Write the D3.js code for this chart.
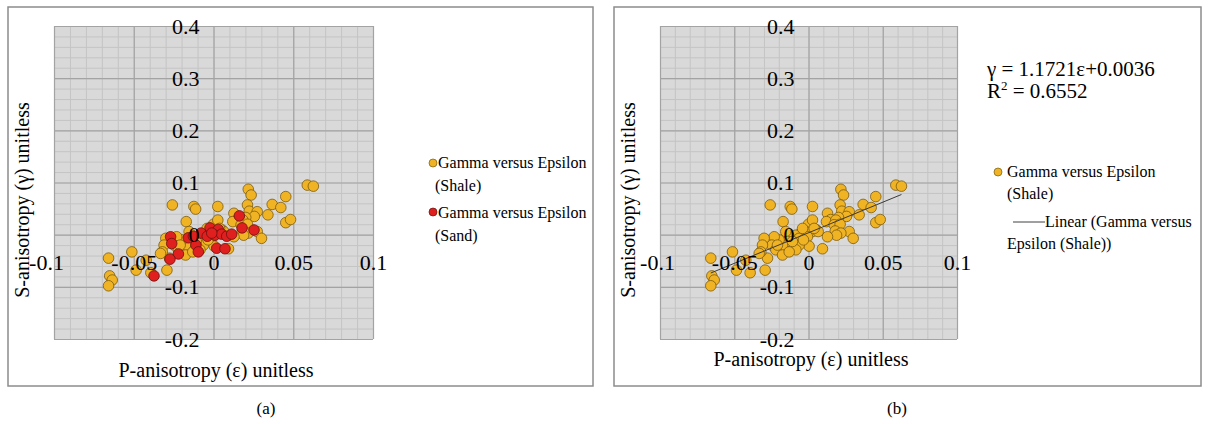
<!DOCTYPE html>
<html><head><meta charset="utf-8">
<script src="https://cdn.jsdelivr.net/npm/d3@7"></script>
<style>
body{margin:0;background:#fff;}
</style></head>
<body><svg id="c" width="1208" height="424"></svg>
<script>
// ---- data ----
const xTicks = [-0.1, -0.05, 0, 0.05, 0.1];
const yTicks = [-0.2, -0.1, 0, 0.1, 0.2, 0.3, 0.4];
const xTickLabels = ["-0.1", "-0.05", "0", "0.05", "0.1"];
const yTickLabels = ["-0.2", "-0.1", "0", "0.1", "0.2", "0.3", "0.4"];
const shaleEps = [0.0588,0.0626,0.0218,0.0236,0.0453,0.0368,0.0422,0.0341,0.0453,0.0483,
  -0.0258,-0.0123,-0.0112,0.0027,-0.0171,
  0.0213,0.0224,0.0274,0.0256,0.0202,0.0128,0.0150,0.0121,0.0184,0.0173,0.0213,0.0180,0.0274,0.0301,0.0218,0.0189,0.0128,0.0094,
  0.0,0.0027,0.0054,0.0027,-0.0018,-0.0052,-0.0085,-0.0007,-0.0063,0.0004,-0.0063,-0.0085,-0.013,-0.0153,-0.0141,-0.0175,-0.0198,-0.0231,-0.0247,-0.022,-0.0175,-0.013,-0.0299,-0.031,-0.0276,-0.0321,0.0065,0.0038,-0.004,-0.0108,-0.0034,-0.0209,
  -0.0512,-0.0658,-0.0485,-0.0393,-0.0292,-0.0422,-0.0651,-0.0635,-0.0658,-0.0332];
const shaleGam = [0.095,0.093,0.087,0.076,0.073,0.058,0.052,0.038,0.023,0.029,
  0.057,0.054,0.049,0.054,0.025,
  0.057,0.045,0.044,0.035,0.033,0.041,0.029,0.025,0.028,0.019,0.020,0.007,0.006,-0.007,0.003,-0.001,-0.004,-0.027,
  0.020,0.028,0.009,0.006,0.006,0.003,-0.001,-0.004,-0.007,-0.022,-0.020,-0.029,-0.004,0.006,-0.013,-0.020,-0.010,-0.004,-0.020,-0.029,-0.039,-0.033,-0.007,-0.020,-0.045,-0.033,0.006,0.012,0.012,-0.013,-0.010,-0.020,
  -0.033,-0.045,-0.068,-0.073,-0.068,-0.049,-0.079,-0.087,-0.098,-0.036];
const sandEps = [0.0162,0.0179,0.0254,-0.0022,0.003,-0.0078,-0.0039,0.0009,0.0051,0.0083,0.0114,-0.0158,-0.011,-0.0095,0.002,0.0072,-0.0269,-0.0262,-0.022,-0.0273,-0.0373,-0.0126,-0.0011];
const sandGam = [0.036,0.013,0.009,0.013,0.010,0.003,-0.003,-0.001,0.001,-0.003,0.001,-0.006,-0.020,-0.033,-0.026,-0.027,-0.004,-0.017,-0.037,-0.047,-0.079,-0.003,0.003];
const trendSlope = 1.1721, trendIntercept = 0.0036;
const seriesNames = ["Gamma versus Epsilon", "(Shale)", "(Sand)"];
const shale = shaleEps.map((e,i)=>({e, g: shaleGam[i]}));
const sand = sandEps.map((e,i)=>({e, g: sandGam[i]}));

const FONT = "'Liberation Serif', 'Times New Roman', 'DejaVu Serif', serif";
const svg = d3.select("#c");
const SHALE = "#f0b324", SHALE_S = "#7a5a10", SAND = "#e0201f", SAND_S = "#6a1010";

function T(sel){ return sel.style("font-family",FONT).style("fill","#000"); }

function panel(o){
  const g = svg.append("g");
  g.append("rect").attr("x",o.bx).attr("y",7).attr("width",o.bw).attr("height",379)
    .attr("fill","#fff").attr("stroke","#8c8c8c").attr("stroke-width",1.5);
  const x = d3.scaleLinear().domain([-0.1,0.1]).range([o.x0,o.x1]);
  const y = d3.scaleLinear().domain([-0.2,0.4]).range([339,26]);
  g.append("rect").attr("x",o.x0).attr("y",26).attr("width",o.x1-o.x0).attr("height",313).attr("fill","#d9d9d9");
  const xm = d3.range(-0.1,0.1001,0.01), ym = d3.range(-0.2,0.4001,0.02);
  g.append("g").call(d3.axisBottom(x).tickValues(xm).tickSize(-313).tickFormat(""))
    .attr("transform",`translate(0,339)`).call(s=>{s.select(".domain").remove();s.selectAll("line").attr("stroke","#c4c4c4").attr("stroke-width",1);});
  g.append("g").call(d3.axisLeft(y).tickValues(ym).tickSize(-(o.x1-o.x0)).tickFormat(""))
    .attr("transform",`translate(${o.x0},0)`).call(s=>{s.select(".domain").remove();s.selectAll("line").attr("stroke","#c4c4c4").attr("stroke-width",1);});
  g.append("g").call(d3.axisBottom(x).tickValues(xTicks).tickSize(-313).tickFormat(""))
    .attr("transform",`translate(0,339)`).call(s=>{s.select(".domain").remove();s.selectAll("line").attr("stroke","#a3a3a3").attr("stroke-width",1.2);});
  g.append("g").call(d3.axisLeft(y).tickValues(yTicks).tickSize(-(o.x1-o.x0)).tickFormat(""))
    .attr("transform",`translate(${o.x0},0)`).call(s=>{s.select(".domain").remove();s.selectAll("line").attr("stroke","#a3a3a3").attr("stroke-width",1.2);});
  g.append("g").selectAll("circle").data(shale).join("circle")
    .attr("cx",d=>x(d.e)).attr("cy",d=>y(d.g)).attr("r",5.3)
    .attr("fill",SHALE).attr("stroke",SHALE_S).attr("stroke-width",0.8);
  if(o.sand){
    g.append("g").selectAll("circle").data(sand).join("circle")
      .attr("cx",d=>x(d.e)).attr("cy",d=>y(d.g)).attr("r",5.3)
      .attr("fill",SAND).attr("stroke",SAND_S).attr("stroke-width",0.8);
  }
  if(o.trend){
    const ex = d3.extent(shaleEps);
    g.append("line").attr("x1",x(ex[0])).attr("y1",y(trendSlope*ex[0]+trendIntercept))
      .attr("x2",x(ex[1])).attr("y2",y(trendSlope*ex[1]+trendIntercept))
      .attr("stroke","#3a3a3a").attr("stroke-width",1);
  }
  g.append("g").attr("transform",`translate(${x(0)},0)`)
    .call(d3.axisLeft(y).tickValues(yTicks).tickSize(0).tickPadding(14).tickFormat((d,i)=>yTickLabels[i]))
    .call(s=>{s.select(".domain").remove();T(s.selectAll("text")).attr("font-size",22);});
  g.append("g").attr("transform",`translate(0,${y(0)})`)
    .call(d3.axisBottom(x).tickValues(xTicks).tickSize(0).tickPadding(20).tickFormat((d,i)=>xTickLabels[i]))
    .call(s=>{s.select(".domain").remove();T(s.selectAll("text")).attr("font-size",22);
      s.selectAll("text").filter((d,i)=>i===0).attr("dx",o.firstDx);});
  T(g.append("text")).attr("transform",`translate(${o.ytX},200) rotate(-90)`).attr("text-anchor","middle")
    .attr("dominant-baseline","central").attr("font-size",20).text("S-anisotropy (γ) unitless");
  T(g.append("text")).attr("x",o.xtX).attr("y",o.xtY).attr("text-anchor","middle").attr("font-size",20).text("P-anisotropy (ε) unitless");
  T(g.append("text")).attr("x",o.capX).attr("y",414).attr("text-anchor","middle").attr("font-size",17).text(o.cap);
  return g;
}

const gA = panel({bx:8,bw:585,x0:54,x1:373,sand:true,trend:false,ytX:22,xtX:216,xtY:377,capX:266,cap:"(a)",firstDx:-8});
const gB = panel({bx:614,bw:587,x0:660,x1:957,sand:false,trend:true,ytX:628,xtX:811,xtY:366,capX:897,cap:"(b)",firstDx:-3});

function legText(g,x,y,t){ T(g.append("text")).attr("x",x).attr("y",y).attr("font-size",16).text(t); }
gA.append("circle").attr("cx",433).attr("cy",163).attr("r",4).attr("fill",SHALE).attr("stroke",SHALE_S).attr("stroke-width",0.7);
legText(gA,438,168,seriesNames[0]); legText(gA,435,191,seriesNames[1]);
gA.append("circle").attr("cx",433).attr("cy",212).attr("r",4).attr("fill",SAND).attr("stroke",SAND_S).attr("stroke-width",0.7);
legText(gA,438,218,seriesNames[0]); legText(gA,435,241,seriesNames[2]);

gB.append("circle").attr("cx",998).attr("cy",172).attr("r",4).attr("fill",SHALE).attr("stroke",SHALE_S).attr("stroke-width",0.7);
legText(gB,1007,177,seriesNames[0]); legText(gB,1007,199,seriesNames[1]);
gB.append("line").attr("x1",1013).attr("x2",1045).attr("y1",222).attr("y2",222).attr("stroke","#404040").attr("stroke-width",1);
legText(gB,1045,227,"Linear (Gamma versus"); legText(gB,1007,249,"Epsilon (Shale))");

const eq = T(gB.append("text")).attr("x",987).attr("y",76).attr("font-size",21);
eq.text(`γ = ${trendSlope}ε+${trendIntercept}`);
const r2 = T(gB.append("text")).attr("x",987).attr("y",98).attr("font-size",21);
r2.append("tspan").text("R");
r2.append("tspan").attr("font-size",13).attr("dy",-8).text("2");
r2.append("tspan").attr("dy",8).text(" = 0.6552");
</script></body></html>
